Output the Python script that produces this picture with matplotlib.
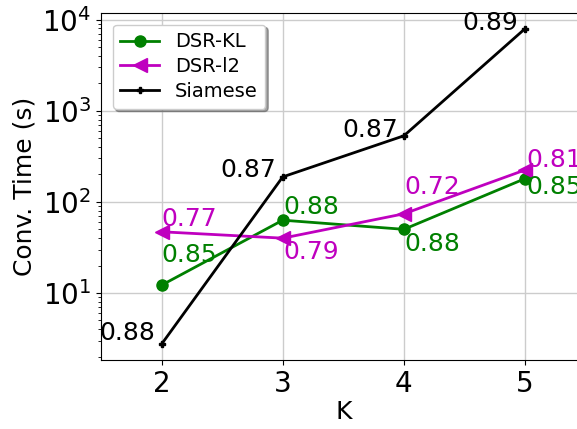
import matplotlib
matplotlib.use("Agg")
import matplotlib.pyplot as plt

# values
k = [2, 3, 4, 5]
time_kl = [12.2, 63, 50, 180]
time_l2 = [47, 40, 74, 224]
time_siamese = [2.75, 188, 531, 7950]
acc_kl = ["0.85", "0.88", "0.88", "0.85"]
acc_l2 = ["0.77", "0.79", "0.72", "0.81"]
acc_siamese = ["0.88", "0.87", "0.87", "0.89"]

fig = plt.figure(figsize=(5.77, 4.29), dpi=100)
ax = fig.add_axes([0.175, 0.161, 0.84, 0.809])

ax.plot(k, time_kl, color="green", marker="o", markersize=8, lw=2, label="DSR-KL")
ax.plot(k, time_l2, color="m", marker="<", markersize=10, lw=2, label="DSR-l2")
ax.plot(k, time_siamese, color="black", marker="P", markersize=5, lw=2, label="Siamese")
ax.set_yscale("log")
ax.set_xlim(1.5, 5.5)
ax.set_xticks(k)

# accuracy labels, offsets in pixels (dx, dy)
off_kl = [(0, 23), (1, 6), (0, -22), (1, -15)]
off_l2 = [(0, 6), (1, -21), (0, 20), (1, 3)]
off_si = [(-6, 4), (-7, 0), (-6, -1), (-7, -1)]
for x, y, s, o in zip(k, time_kl, acc_kl, off_kl):
    ax.annotate(s, (x, y), xytext=o, textcoords="offset pixels", color="green",
                fontsize=18, ha="left", va="baseline")
for x, y, s, o in zip(k, time_l2, acc_l2, off_l2):
    ax.annotate(s, (x, y), xytext=o, textcoords="offset pixels", color="m",
                fontsize=18, ha="left", va="baseline")
for x, y, s, o in zip(k, time_siamese, acc_siamese, off_si):
    ax.annotate(s, (x, y), xytext=o, textcoords="offset pixels", color="black",
                fontsize=18, ha="right", va="baseline")

ax.grid(True, which="major", color="#cccccc", lw=1)
ax.set_axisbelow(True)
ax.tick_params(labelsize=20)
ax.set_xlabel("K", fontsize=18, labelpad=2)
ax.set_ylabel("Conv. Time (s)", fontsize=18, labelpad=4)
ax.legend(loc="upper left", fontsize=14, shadow=True, fancybox=True,
          labelspacing=0.3, borderaxespad=0.6)

fig.savefig("out.png", dpi=100)
